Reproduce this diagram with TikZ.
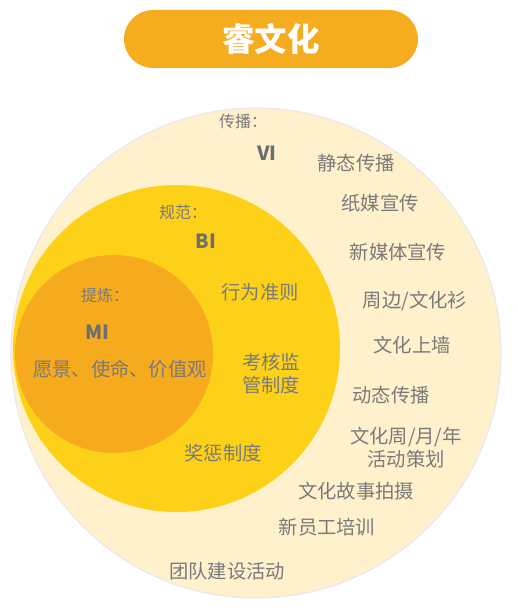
\documentclass[tikz,border=0pt]{standalone}
\usepackage{fontspec}
\setmainfont{Noto Sans CJK SC}
\definecolor{pillc}{HTML}{F6AC1F}
\definecolor{outerc}{HTML}{FFF1CC}
\definecolor{outerb}{HTML}{E8E8EE}
\definecolor{midc}{HTML}{FCD118}
\definecolor{innerc}{HTML}{F6AA1E}
\definecolor{txt}{HTML}{7A7A7A}
\tikzset{
  item/.style={text=txt, font=\fontsize{19.3}{23}\selectfont, inner sep=0pt, align=center},
  lab/.style={text=txt, font=\fontsize{16}{18}\selectfont, inner sep=0pt, anchor=west},
  abbr/.style={text=txt!90!black, font=\fontsize{19.5}{22}\selectfont\bfseries, inner sep=0pt},
}
\begin{document}
\begin{tikzpicture}[x=1pt,y=-1pt]
\useasboundingbox (0,0) rectangle (518,615);
% title
\node[fill=pillc, rounded corners=29pt, minimum width=294pt, minimum height=58pt, inner sep=0pt,
  text=white, font=\fontsize{32.5}{36}\selectfont\bfseries] (title) at (271,39) {睿文化};
% circles
\draw[fill=outerc, draw=outerb, line width=1.2pt] (256,353) circle[radius=245pt];
\fill[midc] (176.5,348.5) circle[radius=163.5pt];
\fill[innerc] (114,354) circle[radius=99pt];
% VI layer
\node[lab] (l1) at (219,121) {传播：};
\node[abbr] (vi) at (267,153) {VI};
\node[item] (a1) at (356,163) {静态传播};
\node[item] (a2) at (380,203) {纸媒宣传};
\node[item] (a3) at (398,252) {新媒体宣传};
\node[item] (a4) at (415,301) {周边/文化衫};
\node[item] (a5) at (412,345) {文化上墙};
\node[item] (a6) at (391,395) {动态传播};
\node[item] (a7) at (406,448) {文化周/月/年\\活动策划};
\node[item] (a8) at (356,491) {文化故事拍摄};
\node[item] (a9) at (327,527) {新员工培训};
\node[item] (a10) at (227,571) {团队建设活动};
% BI layer
\node[lab] (l2) at (159,212) {规范：};
\node[abbr] (bi) at (206,241) {BI};
\node[item] (b1) at (260,292) {行为准则};
\node[item] (b2) at (271,374) {考核监\\管制度};
\node[item] (b3) at (223,453) {奖惩制度};
% MI layer
\node[lab] (l3) at (81,295) {提炼：};
\node[abbr] (mi) at (97,332) {MI};
\node[item] (m1) at (120,369) {愿景、使命、价值观};
\end{tikzpicture}
\end{document}
